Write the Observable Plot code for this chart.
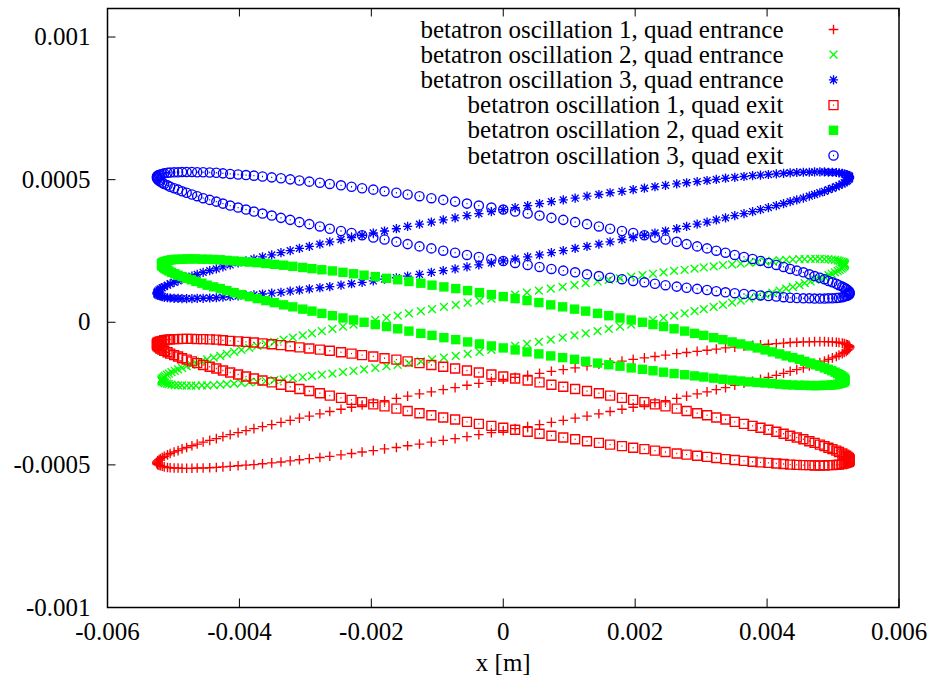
<!DOCTYPE html>
<html>
<head>
<meta charset="utf-8">
<script src="https://cdn.jsdelivr.net/npm/d3@7"></script>
<script src="https://cdn.jsdelivr.net/npm/@observablehq/plot@0.6"></script>
<style>
  html, body { margin: 0; padding: 0; background: #ffffff; }
  #chart { width: 942px; height: 683px; }
</style>
</head>
<body>
<div id="chart"></div>
<script>
// Turn-by-turn phase-space samples at the quadrupole.
// Horizontal position x is listed in mm, the slope in units of 1e-4.

// x positions for oscillations 1 and 3
const xTurns = [
  5.25, 5.25, 5.24, 5.22, 5.20, 5.17, 5.14, 5.09, 5.05, 4.99, 4.93, 4.87, 4.80, 4.72, 4.64, 4.55, 4.45, 4.35, 4.25, 4.14, 4.02, 3.90, 3.78, 3.65, 3.51, 3.37, 3.23, 3.09, 2.94, 2.78, 2.63, 2.46, 2.30, 2.14, 1.97, 1.80, 1.62, 1.45, 1.27, 1.09, 0.91, 0.73, 0.55, 0.37, 0.18, 0,
  -0.18, -0.37, -0.55, -0.73, -0.91, -1.09, -1.27, -1.45, -1.62, -1.80, -1.97, -2.14, -2.30, -2.46, -2.63, -2.78, -2.94, -3.09, -3.23, -3.37, -3.51, -3.65, -3.78, -3.90, -4.02, -4.14, -4.25, -4.35, -4.45, -4.55, -4.64, -4.72, -4.80, -4.87, -4.93, -4.99, -5.05, -5.09, -5.14, -5.17, -5.20, -5.22, -5.24, -5.25, -5.25,
  -5.25, -5.24, -5.22, -5.20, -5.17, -5.14, -5.09, -5.05, -4.99, -4.93, -4.87, -4.80, -4.72, -4.64, -4.55, -4.45, -4.35, -4.25, -4.14, -4.02, -3.90, -3.78, -3.65, -3.51, -3.37, -3.23, -3.09, -2.94, -2.78, -2.63, -2.46, -2.30, -2.14, -1.97, -1.80, -1.62, -1.45, -1.27, -1.09, -0.91, -0.73, -0.55, -0.37, -0.18, 0,
  0.18, 0.37, 0.55, 0.73, 0.91, 1.09, 1.27, 1.45, 1.62, 1.80, 1.97, 2.14, 2.30, 2.46, 2.63, 2.78, 2.94, 3.09, 3.23, 3.37, 3.51, 3.65, 3.78, 3.90, 4.02, 4.14, 4.25, 4.35, 4.45, 4.55, 4.64, 4.72, 4.80, 4.87, 4.93, 4.99, 5.05, 5.09, 5.14, 5.17, 5.20, 5.22, 5.24, 5.25
];

// x positions for oscillation 2
const xTurnsOsc2 = [
  5.18, 5.18, 5.17, 5.15, 5.13, 5.10, 5.07, 5.03, 4.98, 4.93, 4.87, 4.80, 4.73, 4.66, 4.57, 4.49, 4.39, 4.29, 4.19, 4.08, 3.97, 3.85, 3.73, 3.60, 3.47, 3.33, 3.19, 3.04, 2.90, 2.75, 2.59, 2.43, 2.27, 2.11, 1.94, 1.77, 1.60, 1.43, 1.25, 1.08, 0.90, 0.72, 0.54, 0.36, 0.18, 0,
  -0.18, -0.36, -0.54, -0.72, -0.90, -1.08, -1.25, -1.43, -1.60, -1.77, -1.94, -2.11, -2.27, -2.43, -2.59, -2.75, -2.90, -3.04, -3.19, -3.33, -3.47, -3.60, -3.73, -3.85, -3.97, -4.08, -4.19, -4.29, -4.39, -4.49, -4.57, -4.66, -4.73, -4.80, -4.87, -4.93, -4.98, -5.03, -5.07, -5.10, -5.13, -5.15, -5.17, -5.18, -5.18,
  -5.18, -5.17, -5.15, -5.13, -5.10, -5.07, -5.03, -4.98, -4.93, -4.87, -4.80, -4.73, -4.66, -4.57, -4.49, -4.39, -4.29, -4.19, -4.08, -3.97, -3.85, -3.73, -3.60, -3.47, -3.33, -3.19, -3.04, -2.90, -2.75, -2.59, -2.43, -2.27, -2.11, -1.94, -1.77, -1.60, -1.43, -1.25, -1.08, -0.90, -0.72, -0.54, -0.36, -0.18, 0,
  0.18, 0.36, 0.54, 0.72, 0.90, 1.08, 1.25, 1.43, 1.60, 1.77, 1.94, 2.11, 2.27, 2.43, 2.59, 2.75, 2.90, 3.04, 3.19, 3.33, 3.47, 3.60, 3.73, 3.85, 3.97, 4.08, 4.19, 4.29, 4.39, 4.49, 4.57, 4.66, 4.73, 4.80, 4.87, 4.93, 4.98, 5.03, 5.07, 5.10, 5.13, 5.15, 5.17, 5.18
];

// slopes at the quad entrance
const osc1Entrance = [
  -0.87, -0.84, -0.81, -0.79, -0.77, -0.75, -0.73, -0.71, -0.70, -0.69, -0.69, -0.68,
  -0.68, -0.68, -0.69, -0.69, -0.70, -0.71, -0.73, -0.75, -0.77, -0.79, -0.81, -0.84, -0.87, -0.90, -0.94, -0.98, -1.02, -1.06, -1.10, -1.15, -1.20, -1.25, -1.30, -1.36, -1.41, -1.47, -1.53, -1.60, -1.66, -1.72, -1.79, -1.86, -1.93, -2.00, -2.07, -2.14, -2.21, -2.29, -2.36, -2.44, -2.51, -2.59, -2.67, -2.75, -2.82, -2.90,
  -2.98, -3.05, -3.13, -3.21, -3.29, -3.36, -3.44, -3.51, -3.59, -3.66, -3.73, -3.80, -3.87, -3.94, -4.01, -4.08, -4.14, -4.20, -4.27, -4.33, -4.39, -4.44, -4.50, -4.55, -4.60, -4.65, -4.70, -4.74, -4.78, -4.82, -4.86, -4.90, -4.93, -4.96, -4.99, -5.01, -5.03, -5.05, -5.07, -5.09, -5.10, -5.11, -5.11, -5.12, -5.12,
  -5.12, -5.11, -5.11, -5.10, -5.09, -5.07, -5.05, -5.03, -5.01, -4.99, -4.96, -4.93, -4.90, -4.86, -4.82, -4.78, -4.74, -4.70, -4.65, -4.60, -4.55, -4.50, -4.44, -4.39, -4.33, -4.27, -4.20, -4.14, -4.08, -4.01, -3.94, -3.87, -3.80, -3.73, -3.66, -3.59, -3.51, -3.44, -3.36, -3.29, -3.21, -3.13, -3.05, -2.98, -2.90,
  -2.82, -2.75, -2.67, -2.59, -2.51, -2.44, -2.36, -2.29, -2.21, -2.14, -2.07, -2.00, -1.93, -1.86, -1.79, -1.72, -1.66, -1.60, -1.53, -1.47, -1.41, -1.36, -1.30, -1.25, -1.20, -1.15, -1.10, -1.06, -1.02, -0.98, -0.94, -0.90
];

const osc2Entrance = [
  2.03, 2.06, 2.09, 2.11, 2.13, 2.15, 2.17, 2.19, 2.20, 2.21, 2.21, 2.22,
  2.22, 2.22, 2.21, 2.21, 2.20, 2.19, 2.17, 2.15, 2.13, 2.11, 2.09, 2.06, 2.03, 2.00, 1.96, 1.92, 1.88, 1.84, 1.80, 1.75, 1.70, 1.65, 1.60, 1.54, 1.49, 1.43, 1.37, 1.30, 1.24, 1.18, 1.11, 1.04, 0.97, 0.90, 0.83, 0.76, 0.69, 0.61, 0.54, 0.46, 0.39, 0.31, 0.23, 0.15, 0.08, 0,
  -0.08, -0.15, -0.23, -0.31, -0.39, -0.46, -0.54, -0.61, -0.69, -0.76, -0.83, -0.90, -0.97, -1.04, -1.11, -1.18, -1.24, -1.30, -1.37, -1.43, -1.49, -1.54, -1.60, -1.65, -1.70, -1.75, -1.80, -1.84, -1.88, -1.92, -1.96, -2.00, -2.03, -2.06, -2.09, -2.11, -2.13, -2.15, -2.17, -2.19, -2.20, -2.21, -2.21, -2.22, -2.22,
  -2.22, -2.21, -2.21, -2.20, -2.19, -2.17, -2.15, -2.13, -2.11, -2.09, -2.06, -2.03, -2.00, -1.96, -1.92, -1.88, -1.84, -1.80, -1.75, -1.70, -1.65, -1.60, -1.54, -1.49, -1.43, -1.37, -1.30, -1.24, -1.18, -1.11, -1.04, -0.97, -0.90, -0.83, -0.76, -0.69, -0.61, -0.54, -0.46, -0.39, -0.31, -0.23, -0.15, -0.08, 0,
  0.08, 0.15, 0.23, 0.31, 0.39, 0.46, 0.54, 0.61, 0.69, 0.76, 0.83, 0.90, 0.97, 1.04, 1.11, 1.18, 1.24, 1.30, 1.37, 1.43, 1.49, 1.54, 1.60, 1.65, 1.70, 1.75, 1.80, 1.84, 1.88, 1.92, 1.96, 2.00
];

const osc3Entrance = [
  5.08, 5.11, 5.14, 5.16, 5.18, 5.20, 5.22, 5.24, 5.25, 5.26, 5.26, 5.27,
  5.27, 5.27, 5.26, 5.26, 5.25, 5.24, 5.22, 5.20, 5.18, 5.16, 5.14, 5.11, 5.08, 5.05, 5.01, 4.97, 4.93, 4.89, 4.85, 4.80, 4.75, 4.70, 4.65, 4.59, 4.54, 4.48, 4.42, 4.35, 4.29, 4.23, 4.16, 4.09, 4.02, 3.95, 3.88, 3.81, 3.74, 3.66, 3.59, 3.51, 3.44, 3.36, 3.28, 3.20, 3.13, 3.05,
  2.97, 2.90, 2.82, 2.74, 2.66, 2.59, 2.51, 2.44, 2.36, 2.29, 2.22, 2.15, 2.08, 2.01, 1.94, 1.87, 1.81, 1.75, 1.68, 1.62, 1.56, 1.51, 1.45, 1.40, 1.35, 1.30, 1.25, 1.21, 1.17, 1.13, 1.09, 1.05, 1.02, 0.99, 0.96, 0.94, 0.92, 0.90, 0.88, 0.86, 0.85, 0.84, 0.84, 0.83, 0.83,
  0.83, 0.84, 0.84, 0.85, 0.86, 0.88, 0.90, 0.92, 0.94, 0.96, 0.99, 1.02, 1.05, 1.09, 1.13, 1.17, 1.21, 1.25, 1.30, 1.35, 1.40, 1.45, 1.51, 1.56, 1.62, 1.68, 1.75, 1.81, 1.87, 1.94, 2.01, 2.08, 2.15, 2.22, 2.29, 2.36, 2.44, 2.51, 2.59, 2.66, 2.74, 2.82, 2.90, 2.97, 3.05,
  3.13, 3.20, 3.28, 3.36, 3.44, 3.51, 3.59, 3.66, 3.74, 3.81, 3.88, 3.95, 4.02, 4.09, 4.16, 4.23, 4.29, 4.35, 4.42, 4.48, 4.54, 4.59, 4.65, 4.70, 4.75, 4.80, 4.85, 4.89, 4.93, 4.97, 5.01, 5.05
];

// slopes at the quad exit
const osc1Exit = [
  -4.83, -4.80, -4.76, -4.72, -4.68, -4.64, -4.60, -4.55, -4.50, -4.45, -4.40, -4.34, -4.29, -4.23, -4.17, -4.10, -4.04, -3.98, -3.91, -3.84, -3.77, -3.70, -3.63, -3.56, -3.49, -3.41, -3.34, -3.26, -3.19, -3.11, -3.03, -2.95, -2.88, -2.80,
  -2.72, -2.65, -2.57, -2.49, -2.41, -2.34, -2.26, -2.19, -2.11, -2.04, -1.97, -1.90, -1.83, -1.76, -1.69, -1.62, -1.56, -1.50, -1.43, -1.37, -1.31, -1.26, -1.20, -1.15, -1.10, -1.05, -1.00, -0.96, -0.92, -0.88, -0.84, -0.80, -0.77, -0.74, -0.71, -0.69, -0.67, -0.65, -0.63, -0.61, -0.60, -0.59, -0.59, -0.58, -0.58,
  -0.58, -0.59, -0.59, -0.60, -0.61, -0.63, -0.65, -0.67, -0.69, -0.71, -0.74, -0.77, -0.80, -0.84, -0.88, -0.92, -0.96, -1.00, -1.05, -1.10, -1.15, -1.20, -1.26, -1.31, -1.37, -1.43, -1.50, -1.56, -1.62, -1.69, -1.76, -1.83, -1.90, -1.97, -2.04, -2.11, -2.19, -2.26, -2.34, -2.41, -2.49, -2.57, -2.65, -2.72, -2.80,
  -2.88, -2.95, -3.03, -3.11, -3.19, -3.26, -3.34, -3.41, -3.49, -3.56, -3.63, -3.70, -3.77, -3.84, -3.91, -3.98, -4.04, -4.10, -4.17, -4.23, -4.29, -4.34, -4.40, -4.45, -4.50, -4.55, -4.60, -4.64, -4.68, -4.72, -4.76, -4.80, -4.83, -4.86, -4.89, -4.91, -4.93, -4.95, -4.97, -4.99, -5.00, -5.01, -5.01, -5.02,
  -5.02, -5.02, -5.01, -5.01, -5.00, -4.99, -4.97, -4.95, -4.93, -4.91, -4.89, -4.86
];

const osc2Exit = [
  -2.03, -2.00, -1.96, -1.92, -1.88, -1.84, -1.80, -1.75, -1.70, -1.65, -1.60, -1.54, -1.49, -1.43, -1.37, -1.30, -1.24, -1.18, -1.11, -1.04, -0.97, -0.90, -0.83, -0.76, -0.69, -0.61, -0.54, -0.46, -0.39, -0.31, -0.23, -0.15, -0.08, 0,
  0.08, 0.15, 0.23, 0.31, 0.39, 0.46, 0.54, 0.61, 0.69, 0.76, 0.83, 0.90, 0.97, 1.04, 1.11, 1.18, 1.24, 1.30, 1.37, 1.43, 1.49, 1.54, 1.60, 1.65, 1.70, 1.75, 1.80, 1.84, 1.88, 1.92, 1.96, 2.00, 2.03, 2.06, 2.09, 2.11, 2.13, 2.15, 2.17, 2.19, 2.20, 2.21, 2.21, 2.22, 2.22,
  2.22, 2.21, 2.21, 2.20, 2.19, 2.17, 2.15, 2.13, 2.11, 2.09, 2.06, 2.03, 2.00, 1.96, 1.92, 1.88, 1.84, 1.80, 1.75, 1.70, 1.65, 1.60, 1.54, 1.49, 1.43, 1.37, 1.30, 1.24, 1.18, 1.11, 1.04, 0.97, 0.90, 0.83, 0.76, 0.69, 0.61, 0.54, 0.46, 0.39, 0.31, 0.23, 0.15, 0.08, 0,
  -0.08, -0.15, -0.23, -0.31, -0.39, -0.46, -0.54, -0.61, -0.69, -0.76, -0.83, -0.90, -0.97, -1.04, -1.11, -1.18, -1.24, -1.30, -1.37, -1.43, -1.49, -1.54, -1.60, -1.65, -1.70, -1.75, -1.80, -1.84, -1.88, -1.92, -1.96, -2.00, -2.03, -2.06, -2.09, -2.11, -2.13, -2.15, -2.17, -2.19, -2.20, -2.21, -2.21, -2.22,
  -2.22, -2.22, -2.21, -2.21, -2.20, -2.19, -2.17, -2.15, -2.13, -2.11, -2.09, -2.06
];

const osc3Exit = [
  1.02, 1.05, 1.09, 1.13, 1.17, 1.21, 1.25, 1.30, 1.35, 1.40, 1.45, 1.51, 1.56, 1.62, 1.68, 1.75, 1.81, 1.87, 1.94, 2.01, 2.08, 2.15, 2.22, 2.29, 2.36, 2.44, 2.51, 2.59, 2.66, 2.74, 2.82, 2.90, 2.97, 3.05,
  3.13, 3.20, 3.28, 3.36, 3.44, 3.51, 3.59, 3.66, 3.74, 3.81, 3.88, 3.95, 4.02, 4.09, 4.16, 4.23, 4.29, 4.35, 4.42, 4.48, 4.54, 4.59, 4.65, 4.70, 4.75, 4.80, 4.85, 4.89, 4.93, 4.97, 5.01, 5.05, 5.08, 5.11, 5.14, 5.16, 5.18, 5.20, 5.22, 5.24, 5.25, 5.26, 5.26, 5.27, 5.27,
  5.27, 5.26, 5.26, 5.25, 5.24, 5.22, 5.20, 5.18, 5.16, 5.14, 5.11, 5.08, 5.05, 5.01, 4.97, 4.93, 4.89, 4.85, 4.80, 4.75, 4.70, 4.65, 4.59, 4.54, 4.48, 4.42, 4.35, 4.29, 4.23, 4.16, 4.09, 4.02, 3.95, 3.88, 3.81, 3.74, 3.66, 3.59, 3.51, 3.44, 3.36, 3.28, 3.20, 3.13, 3.05,
  2.97, 2.90, 2.82, 2.74, 2.66, 2.59, 2.51, 2.44, 2.36, 2.29, 2.22, 2.15, 2.08, 2.01, 1.94, 1.87, 1.81, 1.75, 1.68, 1.62, 1.56, 1.51, 1.45, 1.40, 1.35, 1.30, 1.25, 1.21, 1.17, 1.13, 1.09, 1.05, 1.02, 0.99, 0.96, 0.94, 0.92, 0.90, 0.88, 0.86, 0.85, 0.84, 0.84, 0.83,
  0.83, 0.83, 0.84, 0.84, 0.85, 0.86, 0.88, 0.90, 0.92, 0.94, 0.96, 0.99
];

const legendLabels = [
  "betatron oscillation 1, quad entrance",
  "betatron oscillation 2, quad entrance",
  "betatron oscillation 3, quad entrance",
  "betatron oscillation 1, quad exit",
  "betatron oscillation 2, quad exit",
  "betatron oscillation 3, quad exit"
];

const xTicks = [-0.006, -0.004, -0.002, 0, 0.002, 0.004, 0.006];
const xTickLabels = ["-0.006", "-0.004", "-0.002", "0", "0.002", "0.004", "0.006"];
const yTicks = [-0.001, -0.0005, 0, 0.0005, 0.001];
const yTickLabels = ["-0.001", "-0.0005", "0", "0.0005", "0.001"];
const xAxisLabel = "x [m]";

// unit conversions of the listed values
const MM = 1e-3;
const SLOPE_UNIT = 1e-4;

// layout
const W = 942, H = 683;
const M = {top: 8, right: 43.5, bottom: 76, left: 107};
const innerW = W - M.left - M.right;
const innerH = H - M.top - M.bottom;
const tickLen = 8.5;
const FONT = "'Liberation Serif', 'Times New Roman', serif";
const FONT_SIZE = 25;

const RED = "#ff0000", GREEN = "#00ff00", BLUE = "#0000ff";

// gnuplot-style point shapes; the size passed in is pi * r^2
const half = (size) => Math.sqrt(size / Math.PI);
const ptPlus = {draw(c, s) { const r = half(s);
  c.moveTo(-r, 0); c.lineTo(r, 0); c.moveTo(0, -r); c.lineTo(0, r); }};
const ptCross = {draw(c, s) { const r = half(s);
  c.moveTo(-r, -r); c.lineTo(r, r); c.moveTo(-r, r); c.lineTo(r, -r); }};
const ptStar = {draw(c, s) { const r = half(s), d = r * 0.75;
  c.moveTo(-r, 0); c.lineTo(r, 0); c.moveTo(0, -r); c.lineTo(0, r);
  c.moveTo(-d, -d); c.lineTo(d, d); c.moveTo(-d, d); c.lineTo(d, -d); }};
const ptBox = {draw(c, s) { const r = half(s);
  c.moveTo(-r, -r); c.lineTo(r, -r); c.lineTo(r, r); c.lineTo(-r, r); c.closePath();
  c.moveTo(-0.5, 0); c.lineTo(0.5, 0); }};
const ptBoxFilled = {draw(c, s) { const r = half(s);
  c.moveTo(-r, -r); c.lineTo(r, -r); c.lineTo(r, r); c.lineTo(-r, r); c.closePath(); }};
const ptCircle = {draw(c, s) { const r = half(s);
  c.moveTo(r, 0); c.arc(0, 0, r, 0, 2 * Math.PI); c.closePath();
  c.moveTo(-0.5, 0); c.lineTo(0.5, 0); }};

const series = [
  {xs: xTurns,     ys: osc1Entrance, color: RED,   symbol: ptPlus,      r: 4.8, filled: false},
  {xs: xTurnsOsc2, ys: osc2Entrance, color: GREEN, symbol: ptCross,     r: 3.9, filled: false},
  {xs: xTurns,     ys: osc3Entrance, color: BLUE,  symbol: ptStar,      r: 4.6, filled: false},
  {xs: xTurns,     ys: osc1Exit,     color: RED,   symbol: ptBox,       r: 4.5, filled: false},
  {xs: xTurnsOsc2, ys: osc2Exit,     color: GREEN, symbol: ptBoxFilled, r: 4.7, filled: true},
  {xs: xTurns,     ys: osc3Exit,     color: BLUE,  symbol: ptCircle,    r: 4.6, filled: false}
];

const pointStyle = (s) => s.filled
  ? {fill: s.color, stroke: "none"}
  : {fill: "none", stroke: s.color, strokeWidth: 1.35};

const textStyle = {fontSize: FONT_SIZE, fontFamily: FONT, fill: "black", lineAnchor: "middle"};

const marks = [];

// data points
series.forEach((s) => {
  const pts = s.ys.map((y, i) => ({x: s.xs[i] * MM, y: y * SLOPE_UNIT}));
  marks.push(Plot.dot(pts, {x: "x", y: "y", symbol: s.symbol, r: s.r, ...pointStyle(s)}));
});

// inward ticks: bottom, top, left
marks.push(Plot.tickX(xTicks, {x: (d) => d, insetTop: innerH - tickLen, stroke: "black", strokeWidth: 1}));
marks.push(Plot.tickX(xTicks, {x: (d) => d, insetBottom: innerH - tickLen, stroke: "black", strokeWidth: 1}));
marks.push(Plot.tickY(yTicks, {y: (d) => d, insetRight: innerW - tickLen, stroke: "black", strokeWidth: 1}));

// tick labels and axis title
marks.push(Plot.text(xTicks, {x: (d) => d, text: (d, i) => xTickLabels[i], frameAnchor: "bottom", dy: 24, ...textStyle}));
marks.push(Plot.text(yTicks, {y: (d) => d, text: (d, i) => yTickLabels[i], frameAnchor: "left", dx: -17,
  textAnchor: "end", ...textStyle}));
marks.push(Plot.text([xAxisLabel], {frameAnchor: "bottom", dy: 55, ...textStyle}));

// key, top right inside the frame
series.forEach((s, i) => {
  const dy = 21 + 25.2 * i;
  marks.push(Plot.text([legendLabels[i]], {frameAnchor: "top-right", dx: -115.5, dy, textAnchor: "end", ...textStyle}));
  marks.push(Plot.dot([legendLabels[i]], {frameAnchor: "top-right", dx: -65.5, dy,
    symbol: s.symbol, r: s.r, ...pointStyle(s)}));
});

marks.push(Plot.frame({stroke: "black", strokeWidth: 1.5}));

const chart = Plot.plot({
  width: W,
  height: H,
  marginTop: M.top,
  marginRight: M.right,
  marginBottom: M.bottom,
  marginLeft: M.left,
  x: {domain: [-0.006, 0.006], axis: null},
  y: {domain: [-0.001, 0.0011], axis: null},
  style: {fontFamily: FONT, fontSize: FONT_SIZE + "px", background: "#ffffff", color: "black"},
  marks
});

document.getElementById("chart").appendChild(chart);
</script>
</body>
</html>
